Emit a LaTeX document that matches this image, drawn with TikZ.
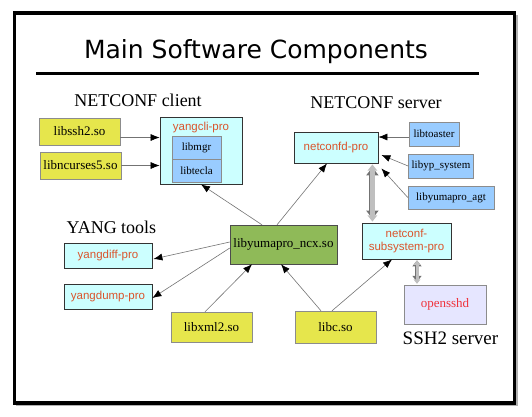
\documentclass[tikz,border=0pt]{standalone}
\usepackage{fontspec}
\setmainfont{Liberation Serif}
\setsansfont{Liberation Sans}
\newfontfamily\titlefont{DejaVu Sans}
\usetikzlibrary{arrows.meta}
\definecolor{libyellow}{RGB}{230,230,76}
\definecolor{progcyan}{RGB}{204,255,255}
\definecolor{libblue}{RGB}{153,204,255}
\definecolor{coregreen}{RGB}{143,186,88}
\definecolor{sshlav}{RGB}{230,230,255}
\definecolor{progred}{RGB}{218,84,44}
\definecolor{sshred}{RGB}{240,50,60}
\begin{document}
\begin{tikzpicture}[x=1pt,y=-1pt,
  lib/.style={draw=black!45,fill=libyellow,minimum height=27pt,minimum width=81pt,font=\fontsize{13}{15}\selectfont},
  agtlib/.style={draw=black!45,fill=libblue,minimum height=24pt,font=\fontsize{11}{13}\selectfont},
  prog/.style={draw=black!80,thick,fill=progcyan,minimum width=88pt,minimum height=25pt,text=progred,font=\sffamily\fontsize{11.5}{13}\selectfont},
  core/.style={draw=black!70,fill=coregreen,minimum width=107pt,minimum height=39pt,font=\fontsize{13}{15}\selectfont},
  sshd/.style={draw=black!45,fill=sshlav,minimum width=82pt,minimum height=39pt,text=sshred,font=\fontsize{13}{15}\selectfont},
  heading/.style={anchor=base,font=\fontsize{18}{20}\selectfont},
  dep/.style={draw=black!55,line width=0.6pt,-{Latex[black,length=9pt,width=7pt]}},
  dbl/.style={draw=black!55,line width=6pt,{Triangle[length=8pt,width=12pt]}-{Triangle[length=8pt,width=12pt]},
    postaction={draw=black!25,line width=4.4pt,{Triangle[length=6.3pt,width=9.5pt]}-{Triangle[length=6.3pt,width=9.5pt]},shorten <=1pt,shorten >=1pt}},
  dblsmall/.style={draw=black!55,line width=4.5pt,{Triangle[length=6pt,width=9pt]}-{Triangle[length=6pt,width=9pt]},
    postaction={draw=black!25,line width=3pt,{Triangle[length=4.5pt,width=6.8pt]}-{Triangle[length=4.5pt,width=6.8pt]},shorten <=1pt,shorten >=1pt}}]
\useasboundingbox (0,0) rectangle (532,416);
% frame and title
\draw[black!30,line width=1.5pt] (517,15) -- (517,405) -- (16,405);
\draw[line width=3.5pt] (14.5,13) rectangle (514.5,403);
\node[anchor=base,font=\titlefont\fontsize{25}{29}\selectfont] (title) at (256,58) {Main Software Components};
\draw[line width=3pt] (36,73) -- (479,73);
\node[heading] (hclient) at (138,106) {NETCONF client};
\node[heading] (hserver) at (376,108) {NETCONF server};
\node[heading] (hyang) at (111.5,233) {YANG tools};
\node[heading,font=\fontsize{19}{21}\selectfont] (hssh) at (450.5,344) {SSH2 server};

% NETCONF client
\node[lib] (ssh2) at (79.5,131.5) {libssh2.so};
\node[lib] (ncurses) at (80.5,165.5) {libncurses5.so};
\node[prog,minimum width=82pt,minimum height=67pt,
  label={[anchor=north,text=progred,font=\sffamily\fontsize{11.5}{13}\selectfont,yshift=-2pt]north:yangcli-pro}] (cli) at (201,150.5) {};
\node[agtlib,minimum width=49pt,minimum height=23pt] (mgr) at (196.5,147.5) {libmgr};
\node[agtlib,minimum width=49pt,minimum height=23pt] (tecla) at (196.5,170.5) {libtecla};

% NETCONF server
\node[prog,minimum width=84pt,minimum height=31pt] (ncd) at (336,147.5) {netconfd-pro};
\node[agtlib,minimum width=50pt] (toaster) at (434,134) {libtoaster};
\node[agtlib,minimum width=64pt] (ypsys) at (441,166) {libyp\_system};
\node[agtlib,minimum width=86pt,minimum height=23pt] (agt) at (451,197.5) {libyumapro\_agt};
\node[prog,minimum width=89pt,minimum height=36pt,align=center,font=\sffamily\fontsize{11.5}{12.5}\selectfont] (sub) at (406.5,241) {netconf-\\subsystem-pro};
\node[sshd] (ssh) at (445,304.5) {opensshd};

% YANG tools and core libraries
\node[core] (ncx) at (283.5,244.5) {libyumapro\_ncx.so};
\node[prog] (diff) at (108,255.5) {yangdiff-pro};
\node[prog] (dump) at (108,296.5) {yangdump-pro};
\node[lib,minimum height=30pt] (xml) at (211.5,327) {libxml2.so};
\node[lib,minimum height=32pt] (libc) at (335.5,327) {libc.so};

% dependencies
\draw[dep] ([yshift=-6pt]ssh2.east) -- ([yshift=-6pt]ssh2.east -| cli.west);
\draw[dep] (ncurses.east) -- (ncurses.east -| cli.west);
\draw[dep] ([xshift=-21.5pt]ncx.north) -- (cli.south);
\draw[dep] ([xshift=-6.5pt]ncx.north) -- ([xshift=-9pt]ncd.south);
\draw[dep] ([yshift=-3pt]toaster.west) -- ([yshift=-3pt]toaster.west -| ncd.east);
\draw[dep] (ypsys.west) -- ([xshift=3pt,yshift=-7.5pt]ncd.east);
\draw[dep] (agt.west) -- ([xshift=3pt,yshift=-5pt]ncd.south east);
\draw[dep] ([yshift=2.5pt]ncx.west) -- ([xshift=1pt,yshift=-3.5pt]diff.east);
\draw[dep] ([yshift=-3.5pt]ncx.west) -- ([yshift=-1.5pt]dump.east);
\draw[dep] ([xshift=-6.5pt]xml.north) -- ([xshift=-31.5pt]ncx.south);
\draw[dep] ([xshift=-14.5pt]libc.north) -- ([xshift=-2.5pt]ncx.south);
\draw[dep] ([xshift=-3.5pt]libc.north) -- ([xshift=-14.5pt]sub.south);
\draw[dbl,shorten <=4pt,shorten >=4pt] ([xshift=-6pt]ncd.south east) -- ([xshift=-6pt]ncd.south east |- sub.north);
\draw[dblsmall,shorten <=1pt,shorten >=3pt] ([xshift=10.5pt]sub.south) -- ([xshift=10.5pt]sub.south |- ssh.north);
\end{tikzpicture}
\end{document}
